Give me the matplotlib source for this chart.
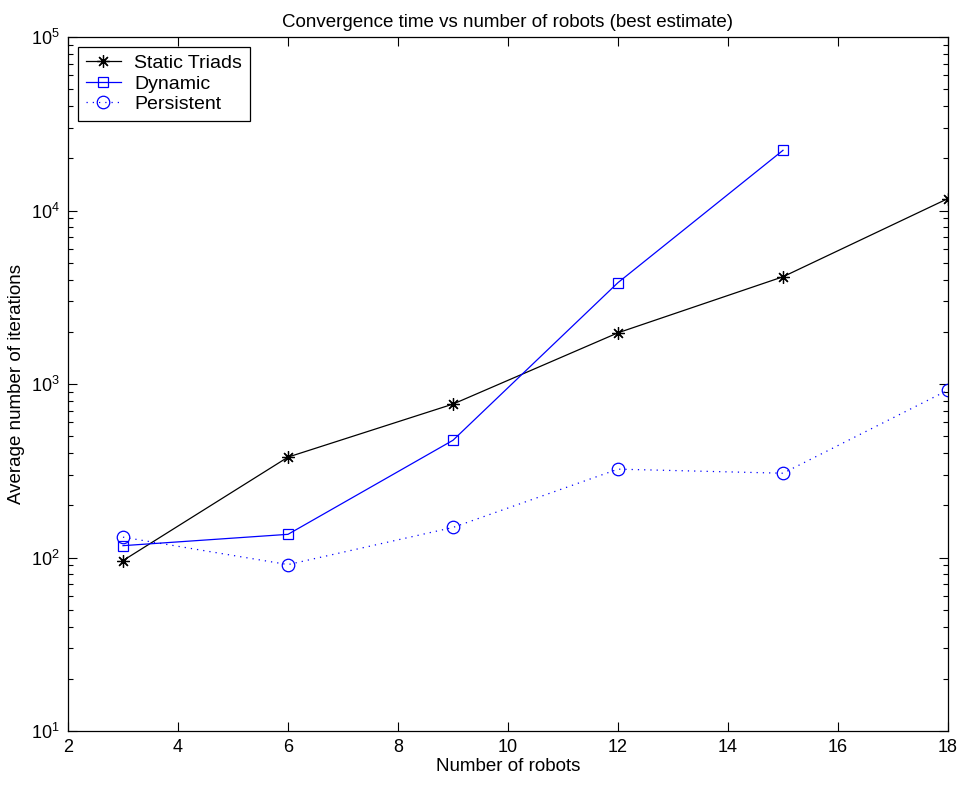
import matplotlib
matplotlib.use("Agg")
import matplotlib.pyplot as plt
from matplotlib.ticker import LogLocator, NullFormatter

plt.rcParams['font.family'] = ['Liberation Sans', 'DejaVu Sans']
plt.rcParams['mathtext.fontset'] = 'custom'
plt.rcParams['mathtext.rm'] = 'Liberation Sans'

# Data
robots_static = [3, 6, 9, 12, 15, 18]
static_triads = [96, 379, 766, 1973, 4150, 11720]

robots_dynamic = [3, 6, 9, 12, 15]
dynamic = [117, 136, 474, 3840, 22230]

robots_persistent = [3, 6, 9, 12, 15, 18]
persistent = [131, 91, 149, 323, 306, 922]

fig = plt.figure(figsize=(9.6, 7.85), dpi=100)
ax = fig.add_axes([68 / 960, 54 / 785, 880 / 960, 694 / 785])

ax.plot(robots_static, static_triads, color='black', lw=0.9, marker=(8, 2, 0),
        markersize=9, markeredgewidth=0.9, label='Static Triads')
ax.plot(robots_dynamic, dynamic, color='blue', lw=0.9, marker='s',
        markersize=7.5, markerfacecolor='none', markeredgewidth=0.9, label='Dynamic')
ax.plot(robots_persistent, persistent, color='blue', lw=0.9, linestyle=(0, (1, 4)),
        marker='o', markersize=9, markerfacecolor='none', markeredgewidth=0.9,
        label='Persistent')

ax.set_yscale('log')
ax.set_xlim(2, 18)
ax.set_ylim(10, 1e5)
ax.set_xticks(range(2, 19, 2))
ax.yaxis.set_major_locator(LogLocator(base=10, numticks=10))
ax.yaxis.set_minor_locator(LogLocator(base=10, subs=range(2, 10), numticks=10))
ax.yaxis.set_minor_formatter(NullFormatter())

ax.tick_params(which='both', direction='in', top=True, right=True, labelsize=13)
ax.tick_params(which='major', length=6.5, width=0.8, pad=6)
ax.tick_params(which='minor', length=3.5, width=0.8)
for s in ax.spines.values():
    s.set_linewidth(0.9)

ax.set_xlabel('Number of robots', fontsize=13.5, labelpad=1)
ax.set_ylabel('Average number of iterations', fontsize=13.5, labelpad=4)
ax.set_title('Convergence time vs number of robots (best estimate)', fontsize=13.5, pad=7)

leg = ax.legend(loc='upper left', fontsize=14, fancybox=False, edgecolor='black',
                framealpha=1, handlelength=1.8, handletextpad=0.7, borderaxespad=0.5,
                labelspacing=0.15, borderpad=0.4)
leg.get_frame().set_linewidth(0.9)

fig.savefig('out.png', dpi=100)
